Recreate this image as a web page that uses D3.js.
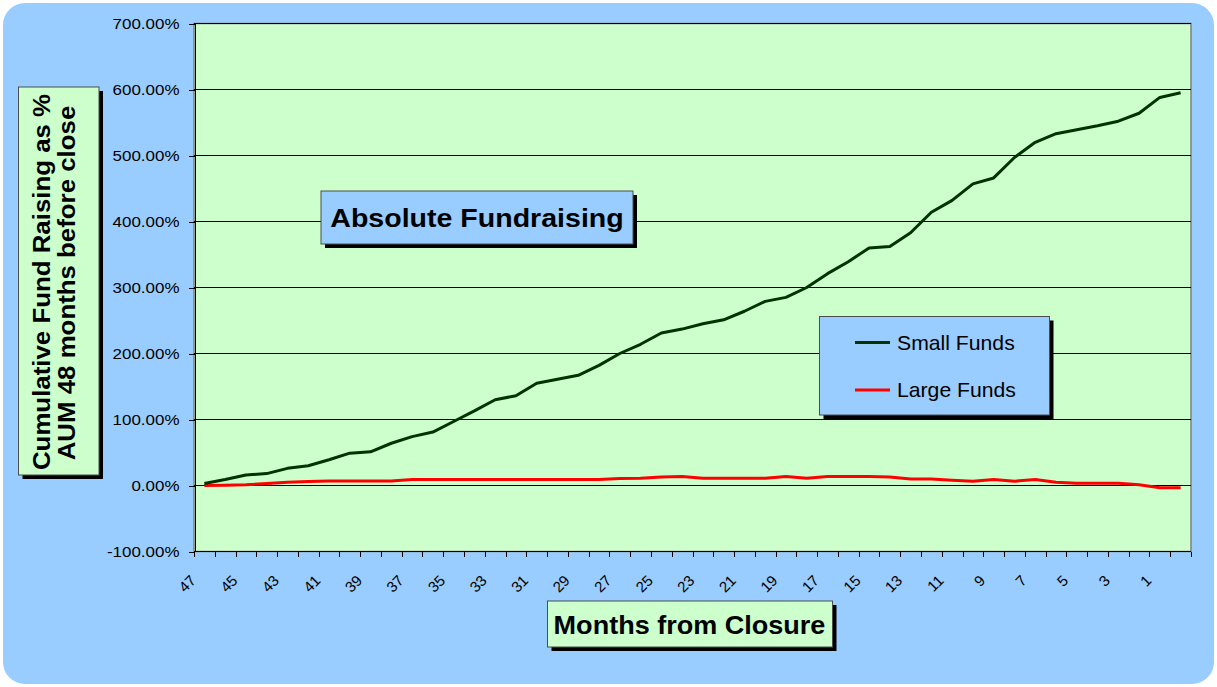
<!DOCTYPE html>
<html>
<head>
<meta charset="utf-8">
<script src="https://cdn.jsdelivr.net/npm/d3@7.9.0/dist/d3.min.js"></script>
<style>
  html, body { margin: 0; padding: 0; background: #fff; }
  svg { display: block; font-family: Arial, "Liberation Sans", sans-serif; }
</style>
</head>
<body>
<svg id="chart" width="1217" height="687"></svg>
<script>
// months before closure, left to right
const months = [47, 46, 45, 44, 43, 42, 41, 40, 39, 38, 37, 36, 35, 34, 33, 32,
  31, 30, 29, 28, 27, 26, 25, 24, 23, 22, 21, 20, 19, 18, 17, 16,
  15, 14, 13, 12, 11, 10, 9, 8, 7, 6, 5, 4, 3, 2, 1, 0];
const monthLabels = [47, 45, 43, 41, 39, 37, 35, 33, 31, 29, 27, 25, 23, 21, 19, 17,
  15, 13, 11, 9, 7, 5, 3, 1];

// cumulative fund raising, % of AUM 48 months before close
const smallFunds = [3, 9, 16, 18, 26, 30, 39, 49, 51, 64, 74, 81, 97, 113, 130, 136,
  155, 161, 167, 182, 200, 214, 231, 237, 245, 251, 264, 279, 285, 300, 321, 339,
  360, 362, 383, 414, 432, 457, 466, 497, 520, 533, 539, 545, 552, 564, 588, 595];
const largeFunds = [0, 0.5, 1, 3, 5, 6, 7, 7, 7, 7, 9, 9, 9, 9, 9, 9,
  9, 9, 9, 9, 10.5, 11, 13, 13.5, 11, 11, 11, 11, 13.5, 11, 13.5, 13.5,
  13.5, 13, 10, 10, 8, 6.5, 9, 6.5, 9, 5, 3.5, 3.5, 3.5, 1, -3.5, -3.5];

const yTicks = [-100, 0, 100, 200, 300, 400, 500, 600, 700];
const seriesNames = ['Small Funds', 'Large Funds'];
const seriesColors = ['#003300', '#ff0000'];

const svg = d3.select('#chart');
const plot = { left: 194, right: 1191, top: 23.5, bottom: 551.5 };

const x = d3.scaleBand()
  .domain(months)
  .range([plot.left, plot.right])
  .padding(0);

const y = d3.scaleLinear()
  .domain([-100, 700])
  .range([plot.bottom, plot.top]);

// text with a horizontal stretch, like the original rendering
function stretchText(g, tx, ty, k, str, opts) {
  const t = g.append('text')
    .attr('transform', `translate(${tx},${ty})${opts.rotate ? ` rotate(${opts.rotate})` : ''} scale(${k},1)`)
    .attr('text-anchor', opts.anchor || 'start')
    .attr('font-size', opts.size)
    .attr('font-weight', opts.weight || 'normal')
    .attr('fill', '#000')
    .text(str);
  return t;
}

// background
svg.append('rect')
  .attr('x', 3).attr('y', 3)
  .attr('width', 1211).attr('height', 681)
  .attr('rx', 22)
  .attr('fill', '#99ccff');

// plot area
svg.append('rect')
  .attr('x', plot.left).attr('y', plot.top)
  .attr('width', plot.right - plot.left).attr('height', plot.bottom - plot.top)
  .attr('fill', '#ccffcc')
  .attr('stroke', '#808080')
  .attr('stroke-width', 1.5);

// gridlines
svg.append('g')
  .selectAll('line')
  .data(yTicks.filter(d => d > -100))
  .join('line')
  .attr('x1', plot.left).attr('x2', plot.right)
  .attr('y1', d => y(d)).attr('y2', d => y(d))
  .attr('stroke', '#000')
  .attr('stroke-width', 1)
  .attr('shape-rendering', 'crispEdges');

// y axis
const yAxis = svg.append('g')
  .attr('transform', `translate(${plot.left + 0.5},0)`)
  .call(d3.axisLeft(y)
    .tickValues(yTicks)
    .tickFormat(d => d.toFixed(2) + '%')
    .tickSize(6)
    .tickPadding(9)
    .tickSizeOuter(0));
yAxis.select('.domain').attr('stroke', '#000').attr('shape-rendering', 'crispEdges');
yAxis.selectAll('.tick line').attr('stroke', '#000').attr('shape-rendering', 'crispEdges');
yAxis.selectAll('.tick text')
  .attr('font-size', 15)
  .attr('font-family', 'Arial, "Liberation Sans", sans-serif')
  .attr('fill', '#000')
  .attr('transform', function () {
    const tx = +d3.select(this).attr('x');
    return `translate(${tx},0) scale(1.13,1) translate(${-tx},0)`;
  });

// x axis line + tick marks between categories
const xAxis = svg.append('g').attr('transform', `translate(0,${plot.bottom})`);
xAxis.append('line')
  .attr('x1', plot.left).attr('x2', plot.right)
  .attr('stroke', '#000')
  .attr('shape-rendering', 'crispEdges');
const bounds = months.map(m => x(m)).concat([x(months[months.length - 1]) + x.bandwidth()]);
xAxis.selectAll('.bt')
  .data(bounds)
  .join('line')
  .attr('class', 'bt')
  .attr('x1', d => Math.round(d) + 0.5).attr('x2', d => Math.round(d) + 0.5)
  .attr('y1', 0).attr('y2', 5)
  .attr('stroke', '#000')
  .attr('shape-rendering', 'crispEdges');

// x tick labels, rotated
const xLabels = svg.append('g')
  .attr('transform', `translate(0,${plot.bottom})`)
  .call(d3.axisBottom(x).tickValues(monthLabels).tickSize(0));
xLabels.select('.domain').remove();
xLabels.selectAll('.tick text')
  .attr('x', 0).attr('y', 0).attr('dy', 0)
  .attr('text-anchor', 'end')
  .attr('font-size', 15)
  .attr('font-family', 'Arial, "Liberation Sans", sans-serif')
  .attr('fill', '#000')
  .attr('transform', 'translate(-7.5,30) rotate(-45)');

// series lines
const lineGen = d3.line()
  .x((d, i) => x(months[i]) + x.bandwidth() / 2)
  .y(d => y(d));

[largeFunds, smallFunds].forEach((values, k) => {
  const idx = k === 0 ? 1 : 0;
  svg.append('path')
    .datum(values)
    .attr('d', lineGen)
    .attr('fill', 'none')
    .attr('stroke', seriesColors[idx])
    .attr('stroke-width', 3)
    .attr('stroke-linejoin', 'round');
});

// boxed labels with drop shadow
function shadowBox(bx, by, bw, bh, fill) {
  svg.append('rect')
    .attr('x', bx + 4).attr('y', by + 4)
    .attr('width', bw).attr('height', bh)
    .attr('fill', '#000');
  svg.append('rect')
    .attr('x', bx).attr('y', by)
    .attr('width', bw).attr('height', bh)
    .attr('fill', fill)
    .attr('stroke', '#4d4d4d')
    .attr('stroke-width', 1);
}

// chart title
shadowBox(321, 191, 312, 53, '#99ccff');
stretchText(svg, 477, 226.5, 1.12, 'Absolute Fundraising', { anchor: 'middle', size: 25.5, weight: 'bold' });

// legend
shadowBox(819.5, 316.5, 230, 98.5, '#99ccff');
seriesNames.forEach((name, i) => {
  const ly = 342.5 + i * 47.5;
  svg.append('line')
    .attr('x1', 855).attr('x2', 890)
    .attr('y1', ly).attr('y2', ly)
    .attr('stroke', seriesColors[i])
    .attr('stroke-width', 3);
  stretchText(svg, 897, ly + 7, 1.06, name, { size: 20 });
});

// y axis title
shadowBox(18.5, 87, 80.5, 388, '#ccffcc');
stretchText(svg, 49.5, 282, 1.1, 'Cumulative Fund Raising as %', { anchor: 'middle', size: 23.5, weight: 'bold', rotate: -90 });
stretchText(svg, 75, 283, 1.1, 'AUM 48 months before close', { anchor: 'middle', size: 23.5, weight: 'bold', rotate: -90 });

// x axis title
shadowBox(547.5, 601, 285, 46, '#ccffcc');
stretchText(svg, 689.5, 634, 1.04, 'Months from Closure', { anchor: 'middle', size: 26, weight: 'bold' });
</script>
</body>
</html>
